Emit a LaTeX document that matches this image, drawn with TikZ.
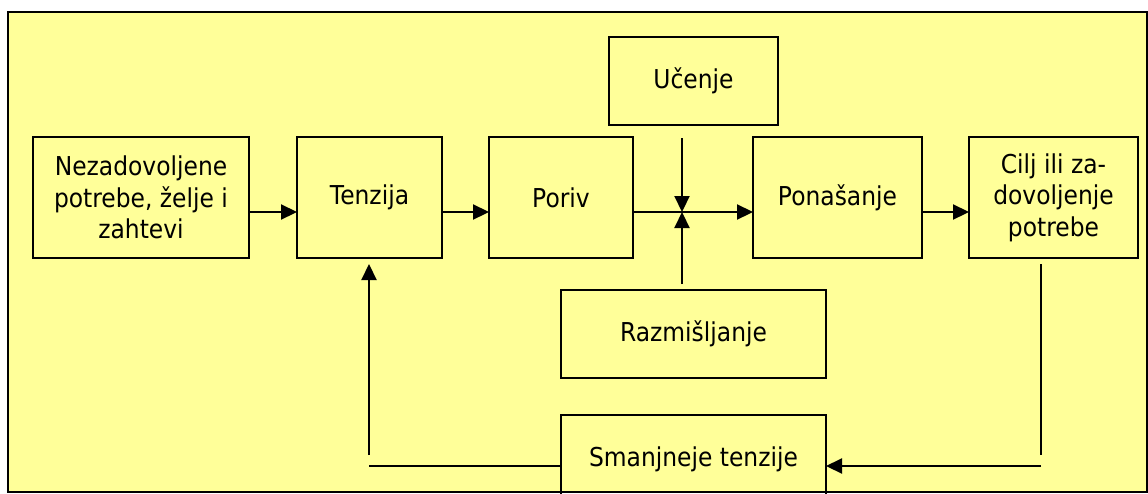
\documentclass[tikz,border=0pt]{standalone}
\usepackage{fontspec}
\setmainfont{DejaVu Sans}[FakeStretch=0.9]
\usetikzlibrary{arrows.meta}
\definecolor{paper}{HTML}{FFFF99}
\begin{document}
\begin{tikzpicture}[x=1pt,y=-1pt,
  box/.style={draw, line width=1.8pt, inner sep=0pt, outer sep=0pt,
    align=center, font=\fontsize{26}{31.5}\selectfont},
  arr/.style={line width=2.2pt, -{Triangle[length=16pt,width=15pt]}},
  link/.style={line width=2.2pt},
  thin/.style={line width=1.5pt}]
\useasboundingbox (0,0) rectangle (1148,493);
% background panel
\fill[paper] (8,12) rectangle (1147,492);

% boxes
\node[box, minimum width=216pt, minimum height=121pt] (need) at (141,197.5)
  {Nezadovoljene\\potrebe, želje i\\zahtevi};
\node[box, minimum width=145pt, minimum height=121pt] (tenz) at (369.5,197.5) {Tenzija};
\node[box, minimum width=144pt, minimum height=121pt] (poriv) at (561,197.5) {Poriv};
\node[box, minimum width=169pt, minimum height=88pt] (uc) at (693.5,81) {Učenje};
\node[box, minimum width=169pt, minimum height=121pt] (pon) at (837.5,197.5) {Ponašanje};
\node[box, minimum width=169pt, minimum height=121pt] (cilj) at (1053.5,197.5)
  {Cilj ili za-\\dovoljenje\\potrebe};
\node[box, minimum width=265pt, minimum height=88pt] (raz) at (693.5,334) {Razmišljanje};
\node[box, minimum width=265pt, minimum height=88pt] (sm) at (693.5,459) {Smanjneje tenzije};

% connector anchors
\coordinate (row) at (0,212);
\coordinate (j) at (682,212);
\coordinate (ucA) at (682,138);
\coordinate (razA) at (682,284);
\coordinate (cA) at (1041,264);
\coordinate (cB) at (1041,455);
\coordinate (cC) at (1041,466);
\coordinate (tB) at (369,466);
\coordinate (tA) at (369,455);
\coordinate (tTip) at (369,264);

% main flow
\draw[arr] (need.east |- row) -- (tenz.west |- row);
\draw[arr] (tenz.east |- row) -- (poriv.west |- row);
\draw[arr] (poriv.east |- row) -- (pon.west |- row);
\draw[arr] (pon.east |- row) -- (cilj.west |- row);
\draw[arr] (ucA) -- (j);
\draw[arr] (razA) -- (j);

% feedback loop
\draw[thin] (cA) -- (cB);
\draw[arr] (cC) -- (sm.east |- cC);
\draw[link] (sm.west |- tB) -- (tB);
\draw[arr] (tA) -- (tTip);

% outer frame
\draw[line width=1.3pt] (8,12) rectangle (1147,492);
\end{tikzpicture}
\end{document}
